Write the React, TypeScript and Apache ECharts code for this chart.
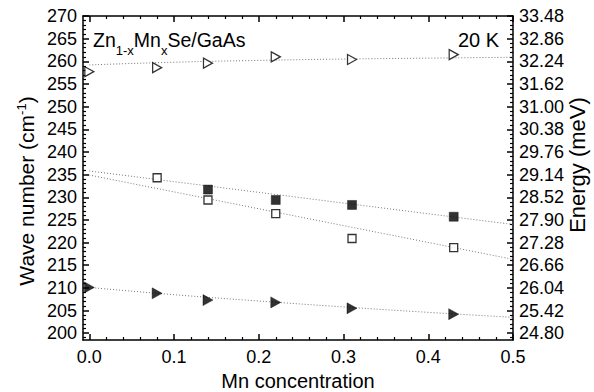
import React, { useEffect, useRef } from 'react';
import * as echarts from 'echarts';

const FONT = '"Liberation Sans", Arial, Helvetica, sans-serif';

// Mn concentration x of the samples
const concentration = [0, 0.08, 0.14, 0.22, 0.31, 0.43];
// Wave numbers (cm^-1)
const openTriangle = [257.7, 258.6, 259.6, 261.0, 260.4, 261.5];
const openSquareX = [0.08, 0.14, 0.22, 0.31, 0.43];
const openSquare = [234.3, 229.4, 226.4, 220.9, 218.9];
const filledSquareX = [0.14, 0.22, 0.31, 0.43];
const filledSquare = [231.7, 229.4, 228.3, 225.7];
const filledTriangle = [210.1, 208.8, 207.3, 206.8, 205.5, 204.2];

// Fitted curves
const fitX = [0, 0.1, 0.2, 0.3, 0.4, 0.5];
const fitOpenTriangle = [259.2, 259.8, 260.2, 260.5, 260.7, 260.9];
const fitFilledTriangle = [210.1, 208.5, 207.1, 205.8, 204.6, 203.5];
const fitLineX = [0, 0.5];
const fitFilledSquare = [235.8, 224.0];
const fitOpenSquare = [234.9, 216.3];

// Axis ticks
const xTicks = [0, 0.1, 0.2, 0.3, 0.4, 0.5];
const xTickLabels = ['0.0', '0.1', '0.2', '0.3', '0.4', '0.5'];
const waveTicks = [200, 205, 210, 215, 220, 225, 230, 235, 240, 245, 250, 255, 260, 265, 270];
const energyTickLabels = [
  '24.80', '25.42', '26.04', '26.66', '27.28', '27.90', '28.52', '29.14',
  '29.76', '30.38', '31.00', '31.62', '32.24', '32.86', '33.48',
];

const X_MIN = -0.0075;
const X_MAX = 0.5;
const Y_MIN = 198.5;
const Y_MAX = 270;

const xMinor: number[] = [];
for (let i = 1; i < 25; i++) if (i % 5 !== 0) xMinor.push(+(i * 0.02).toFixed(2));
const yMinor: number[] = [];
for (let v = 199; v < 270; v++) if (v % 5 !== 0) yMinor.push(v);

const pairs = (xs: number[], ys: number[]) => xs.map((x, i) => [x, ys[i]]);
const lookup = (ticks: number[], labels: string[]) => (v: number) => {
  const i = ticks.findIndex((t) => Math.abs(t - v) < 1e-6);
  return i >= 0 ? labels[i] : '';
};

let measureCtx: CanvasRenderingContext2D | null = null;
const textWidth = (text: string, size: number) => {
  if (!measureCtx) measureCtx = document.createElement('canvas').getContext('2d');
  if (!measureCtx) return text.length * size * 0.55;
  measureCtx.font = `${size}px ${FONT}`;
  return measureCtx.measureText(text).width;
};

// A run of text pieces laid side by side; each piece has its own size and vertical offset.
type Piece = { text: string; size: number; dy: number };
const textRun = (pieces: Piece[], startX: number) => {
  let x = startX;
  return pieces.map((p) => {
    const el = {
      type: 'text',
      x,
      y: p.dy,
      style: { text: p.text, fontSize: p.size, fontFamily: FONT, fill: '#000', align: 'left', verticalAlign: 'middle' },
    };
    x += textWidth(p.text, p.size);
    return el;
  });
};
const runWidth = (pieces: Piece[]) => pieces.reduce((s, p) => s + textWidth(p.text, p.size), 0);

const black = { color: '#000', width: 1.5 };
const labelStyle = { fontSize: 18, color: '#000', fontFamily: FONT };

const majorX = (position: 'bottom' | 'top', labels: boolean) => ({
  type: 'value',
  position,
  min: X_MIN,
  max: X_MAX,
  axisLine: { show: true, onZero: false, lineStyle: black },
  axisTick: { show: true, inside: true, length: 6, customValues: xTicks, lineStyle: black },
  axisLabel: labels
    ? { show: true, customValues: xTicks, formatter: lookup(xTicks, xTickLabels), margin: 8, ...labelStyle }
    : { show: false },
  splitLine: { show: false },
});

const minorX = (position: 'bottom' | 'top') => ({
  type: 'value',
  position,
  min: X_MIN,
  max: X_MAX,
  axisLine: { show: false, onZero: false },
  axisTick: { show: true, inside: true, length: 3, customValues: xMinor, lineStyle: { color: '#000', width: 1.2 } },
  axisLabel: { show: false },
  splitLine: { show: false },
});

const majorY = (position: 'left' | 'right', labels: string[]) => ({
  type: 'value',
  position,
  min: Y_MIN,
  max: Y_MAX,
  axisLine: { show: true, onZero: false, lineStyle: black },
  axisTick: { show: true, inside: true, length: 6, customValues: waveTicks, lineStyle: black },
  axisLabel: { show: true, customValues: waveTicks, formatter: lookup(waveTicks, labels), margin: 6, ...labelStyle },
  splitLine: { show: false },
});

const minorY = (position: 'left' | 'right') => ({
  type: 'value',
  position,
  min: Y_MIN,
  max: Y_MAX,
  axisLine: { show: false, onZero: false },
  axisTick: { show: true, inside: true, length: 3, customValues: yMinor, lineStyle: { color: '#000', width: 1.2 } },
  axisLabel: { show: false },
  splitLine: { show: false },
});

const fitLine = (xs: number[], ys: number[]) => ({
  type: 'line',
  data: pairs(xs, ys),
  smooth: true,
  showSymbol: false,
  symbol: 'none',
  z: 1,
  lineStyle: { color: '#777', width: 1, type: [1, 2] },
});

const marker = (xs: number[], ys: number[], symbol: string, size: number | number[], filled: boolean, rotate = 0) => ({
  type: 'scatter',
  data: pairs(xs, ys),
  symbol,
  symbolSize: size,
  symbolRotate: rotate,
  z: 3,
  itemStyle: filled
    ? { color: '#000', borderColor: '#000', borderWidth: 0.5 }
    : { color: '#fff', borderColor: '#000', borderWidth: 1.3 },
});

const waveLabels = waveTicks.map((v) => String(v));

const buildOption = () => {
  const sampleName: Piece[] = [
    { text: 'Zn', size: 19.5, dy: 0 },
    { text: '1-x', size: 13, dy: 10 },
    { text: 'Mn', size: 19.5, dy: 0 },
    { text: 'x', size: 13, dy: 10 },
    { text: 'Se/GaAs', size: 19.5, dy: 0 },
  ];
  const waveTitle: Piece[] = [
    { text: 'Wave number (cm', size: 21, dy: 0 },
    { text: '-1', size: 13, dy: -5 },
    { text: ')', size: 21, dy: 0 },
  ];

  return {
    animation: false,
    backgroundColor: '#fff',
    grid: { left: 83, right: 81, top: 16, bottom: 52, containLabel: false },
    xAxis: [majorX('bottom', true), majorX('top', false), minorX('bottom'), minorX('top')],
    yAxis: [majorY('left', waveLabels), majorY('right', energyTickLabels), minorY('left'), minorY('right')],
    series: [
      fitLine(fitX, fitOpenTriangle),
      fitLine(fitLineX, fitFilledSquare),
      fitLine(fitLineX, fitOpenSquare),
      fitLine(fitX, fitFilledTriangle),
      marker(concentration, openTriangle, 'triangle', [10, 9], false, -90),
      marker(openSquareX, openSquare, 'rect', 8, false),
      marker(filledSquareX, filledSquare, 'rect', 9, true),
      marker(concentration, filledTriangle, 'triangle', [11, 10], true, -90),
    ],
    graphic: [
      { type: 'group', x: 93, y: 40, children: textRun(sampleName, 0) },
      {
        type: 'text',
        x: 458,
        y: 40,
        style: { text: '20 K', fontSize: 20, fontFamily: FONT, fill: '#000', align: 'left', verticalAlign: 'middle' },
      },
      {
        type: 'group',
        x: 26,
        y: 191,
        rotation: Math.PI / 2,
        children: textRun(waveTitle, -runWidth(waveTitle) / 2),
      },
      {
        type: 'text',
        x: 577,
        y: 165,
        rotation: Math.PI / 2,
        style: { text: 'Energy (meV)', fontSize: 22, fontFamily: FONT, fill: '#000', align: 'center', verticalAlign: 'middle' },
      },
      {
        type: 'text',
        x: 298,
        y: 381,
        style: { text: 'Mn concentration', fontSize: 20, fontFamily: FONT, fill: '#000', align: 'center', verticalAlign: 'middle' },
      },
    ],
  };
};

export default function App() {
  const ref = useRef<HTMLDivElement>(null);
  useEffect(() => {
    if (!ref.current) return;
    const chart = echarts.init(ref.current, null, { renderer: 'svg' });
    chart.setOption(buildOption() as any);
    return () => chart.dispose();
  }, []);
  return (
    <div
      ref={ref}
      style={{ position: 'absolute', left: 0, top: 0, width: 594, height: 392, background: '#fff' }}
    />
  );
}
